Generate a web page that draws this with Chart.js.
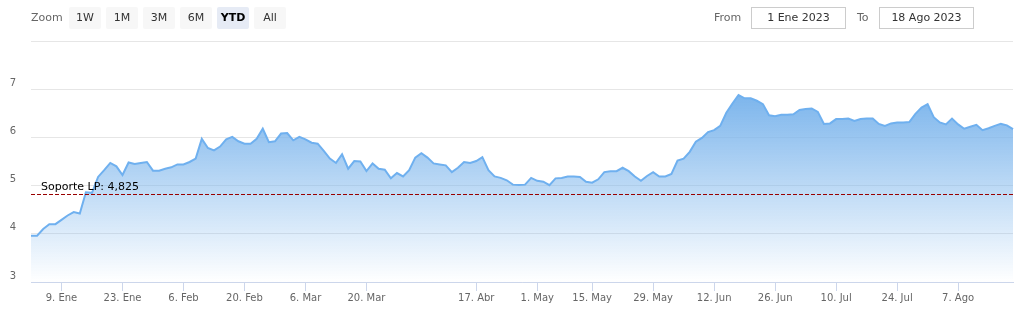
<!DOCTYPE html>
<html><head><meta charset="utf-8">
<script src="https://cdn.jsdelivr.net/npm/chart.js@4/dist/chart.umd.min.js"></script>
<style>
html,body{margin:0;padding:0;background:#fff;}
#wrap{position:relative;width:1019px;height:313px;font-family:"DejaVu Sans",sans-serif;overflow:hidden;}
#c{position:absolute;left:0;top:0;}
.lbl{position:absolute;font-size:11px;color:#666;line-height:22px;top:7px;}
.btn{position:absolute;top:7px;width:32px;height:22px;line-height:22px;text-align:center;background:#f7f7f7;border-radius:2px;font-size:11px;color:#333;}
.btn.sel{background:#e6ebf5;font-weight:bold;color:#000;}
.box{position:absolute;top:7px;height:20px;line-height:20px;border:1px solid #ccc;text-align:center;font-size:11px;color:#333;background:#fff;}
</style></head>
<body>
<div id="wrap">
<canvas id="c" width="1019" height="313"></canvas>
<div class="lbl" style="left:31px">Zoom</div>
<div id="btns"></div>
<div class="lbl" style="left:714px">From</div>
<div class="box" id="fromBox" style="left:751px;width:93px"></div>
<div class="lbl" style="left:857px">To</div>
<div class="box" id="toBox" style="left:879px;width:93px"></div>
</div>
<script>
const zoomButtons = ['1W','1M','3M','6M','YTD','All'];
const selectedButton = 'YTD';
const rangeFrom = '1 Ene 2023';
const rangeTo = '18 Ago 2023';

const dates = [
'2 Ene','3 Ene','4 Ene','5 Ene','6 Ene','9 Ene','10 Ene','11 Ene','12 Ene','13 Ene','16 Ene','17 Ene','18 Ene','19 Ene','20 Ene','23 Ene','24 Ene','25 Ene','26 Ene','27 Ene','30 Ene','31 Ene',
'1 Feb','2 Feb','3 Feb','6 Feb','7 Feb','8 Feb','9 Feb','10 Feb','13 Feb','14 Feb','15 Feb','16 Feb','17 Feb','20 Feb','21 Feb','22 Feb','23 Feb','24 Feb','27 Feb','28 Feb',
'1 Mar','2 Mar','3 Mar','6 Mar','7 Mar','8 Mar','9 Mar','10 Mar','13 Mar','14 Mar','15 Mar','16 Mar','17 Mar','20 Mar','21 Mar','22 Mar','23 Mar','24 Mar','27 Mar','28 Mar','29 Mar','30 Mar','31 Mar',
'3 Abr','4 Abr','5 Abr','6 Abr','11 Abr','12 Abr','13 Abr','14 Abr','17 Abr','18 Abr','19 Abr','20 Abr','21 Abr','24 Abr','25 Abr','26 Abr','27 Abr','28 Abr',
'2 May','3 May','4 May','5 May','8 May','9 May','10 May','11 May','12 May','15 May','16 May','17 May','18 May','19 May','22 May','23 May','24 May','25 May','26 May','29 May','30 May','31 May',
'1 Jun','2 Jun','5 Jun','6 Jun','7 Jun','8 Jun','9 Jun','12 Jun','13 Jun','14 Jun','15 Jun','16 Jun','19 Jun','20 Jun','21 Jun','22 Jun','23 Jun','26 Jun','27 Jun','28 Jun','29 Jun','30 Jun',
'3 Jul','4 Jul','5 Jul','6 Jul','7 Jul','10 Jul','11 Jul','12 Jul','13 Jul','14 Jul','17 Jul','18 Jul','19 Jul','20 Jul','21 Jul','24 Jul','25 Jul','26 Jul','27 Jul','28 Jul','31 Jul',
'1 Ago','2 Ago','3 Ago','4 Ago','7 Ago','8 Ago','9 Ago','10 Ago','11 Ago','14 Ago','15 Ago','16 Ago','17 Ago','18 Ago'
];

const prices = [
3.96,3.96,4.10,4.20,4.20,4.29,4.38,4.45,4.42,4.86,
4.85,5.18,5.32,5.47,5.40,5.22,5.48,5.45,5.47,5.49,
5.31,5.31,5.35,5.38,5.44,5.44,5.49,5.56,5.97,5.78,
5.73,5.81,5.96,6.01,5.92,5.87,5.87,5.97,6.18,5.90,
5.92,6.08,6.09,5.94,6.01,5.96,5.89,5.87,5.72,5.56,
5.47,5.65,5.35,5.51,5.50,5.30,5.46,5.35,5.33,5.15,
5.26,5.19,5.32,5.58,5.67,5.58,5.46,5.44,5.42,5.28,
5.37,5.49,5.47,5.51,5.59,5.32,5.19,5.16,5.11,5.02,
5.01,5.02,5.16,5.10,5.08,5.01,5.15,5.16,5.19,5.19,
5.18,5.08,5.06,5.13,5.28,5.30,5.30,5.37,5.30,5.19,
5.10,5.20,5.28,5.19,5.19,5.24,5.52,5.56,5.70,5.91,
5.99,6.11,6.15,6.24,6.51,6.70,6.88,6.81,6.81,6.76,
6.69,6.46,6.44,6.47,6.47,6.48,6.57,6.59,6.60,6.53,
6.28,6.29,6.38,6.38,6.39,6.34,6.38,6.39,6.39,6.28,
6.24,6.29,6.31,6.31,6.32,6.49,6.62,6.69,6.42,6.31,
6.27,6.39,6.27,6.18,6.22,6.26,6.15,6.19,6.24,6.28,
6.25,6.17
];

const tickDates  = ['9 Ene','23 Ene','6 Feb','20 Feb','6 Mar','20 Mar','17 Abr','2 May','15 May','29 May','12 Jun','26 Jun','10 Jul','24 Jul','7 Ago'];
const tickLabels = ['9. Ene','23. Ene','6. Feb','20. Feb','6. Mar','20. Mar','17. Abr','1. May','15. May','29. May','12. Jun','26. Jun','10. Jul','24. Jul','7. Ago'];
const yTicks = [3,4,5,6,7];
const supportValue = 4.825;
const supportLabel = 'Soporte LP: 4,825';

// top controls
const btns = document.getElementById('btns');
zoomButtons.forEach((b,i)=>{
  const d = document.createElement('div');
  d.className = 'btn' + (b===selectedButton?' sel':'');
  d.style.left = (69 + i*37) + 'px';
  d.textContent = b;
  btns.appendChild(d);
});
document.getElementById('fromBox').textContent = rangeFrom;
document.getElementById('toBox').textContent = rangeTo;

const supportPlugin = {
  id:'support',
  afterDatasetsDraw(chart){
    const {ctx, chartArea:a, scales:{y}} = chart;
    const py = Math.round(y.getPixelForValue(supportValue)) + 0.5;
    ctx.save();
    ctx.strokeStyle = '#990000';
    ctx.lineWidth = 1;
    ctx.setLineDash([4,2]);
    ctx.beginPath(); ctx.moveTo(a.left, py); ctx.lineTo(a.right, py); ctx.stroke();
    ctx.setLineDash([]);
    ctx.fillStyle = '#000';
    ctx.font = '11px "DejaVu Sans"';
    ctx.textBaseline = 'alphabetic';
    ctx.fillText(supportLabel, a.left + 10, py - 5);
    ctx.restore();
  }
};

new Chart(document.getElementById('c'), {
  type:'line',
  data:{
    labels: dates,
    datasets:[{
      data: prices,
      borderColor:'#6fb0ef',
      borderWidth:2,
      pointRadius:0,
      tension:0,
      fill:'start',
      backgroundColor:(ctx)=>{
        const ch = ctx.chart; const a = ch.chartArea;
        if(!a) return 'rgba(124,181,236,0.5)';
        const top = ch.scales.y.getPixelForValue(Math.max(...prices));
        const g = ch.ctx.createLinearGradient(0, top, 0, a.bottom);
        g.addColorStop(0,'rgba(124,181,236,1)');
        g.addColorStop(1,'rgba(124,181,236,0)');
        return g;
      }
    }]
  },
  options:{
    responsive:false,
    animation:false,
    devicePixelRatio:1,
    layout:{padding:{left:0,right:6,top:41,bottom:0}},
    plugins:{legend:{display:false},tooltip:{enabled:false}},
    scales:{
      x:{
        type:'category',
        ticks:{autoSkip:false,maxRotation:0,color:'#666',padding:1,font:{size:10,family:'DejaVu Sans'},
          callback:(v)=>{const j=tickDates.indexOf(dates[v]); return j<0?'':tickLabels[j];}},
        grid:{drawOnChartArea:false,drawTicks:true,tickLength:9,color:'#ccd6eb'},
        border:{display:true,color:'#ccd6eb'},
        afterBuildTicks(s){ s.ticks = s.ticks.filter(t=>tickDates.includes(dates[t.value])); },
        afterFit(s){ s.height = 31; }
      },
      y:{
        min:3,max:8,
        ticks:{stepSize:1,padding:15,labelOffset:-6,color:'#666',font:{size:10,family:'DejaVu Sans'},
          callback:(v)=> yTicks.includes(v)? String(v) : ''},
        grid:{color:'#e6e6e6',drawTicks:false},
        border:{display:false},
        afterFit(s){ s.width = 31; }
      }
    }
  },
  plugins:[supportPlugin]
});
</script>
</body></html>
